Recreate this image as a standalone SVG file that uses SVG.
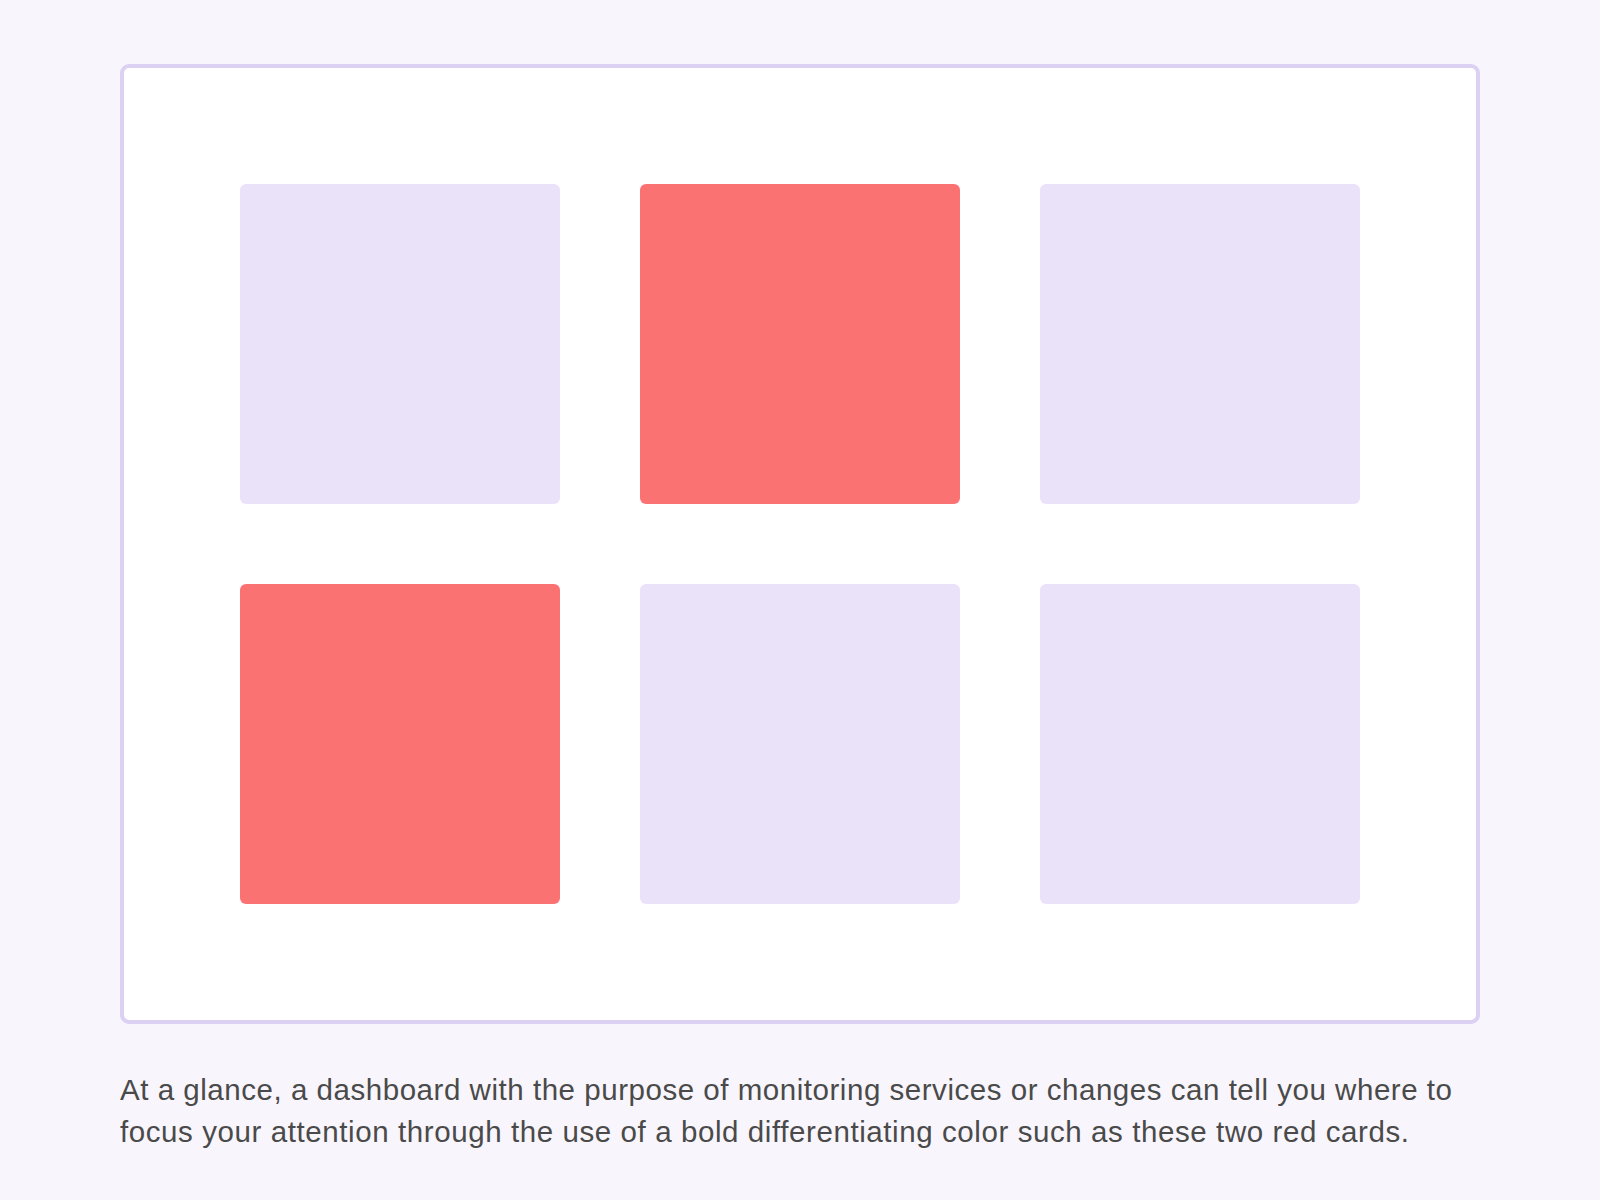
<svg xmlns="http://www.w3.org/2000/svg" width="1600" height="1200" viewBox="0 0 1600 1200">
<style>
.card{fill:#E9E2F9}
.alert{fill:#FA7272}
.cap{font-family:"Liberation Sans",Arial,sans-serif;font-size:29.5px;fill:#4A4A4A}
</style>
<rect x="0" y="0" width="1600" height="1200" fill="#F8F6FC"/>
<g id="frame"><rect x="122" y="66" width="1356" height="956" rx="7" fill="#FFFFFF" stroke="#DCD1F2" stroke-width="4"/></g>
<g id="card1"><rect class="card" x="240" y="184" width="320" height="320" rx="6"/></g>
<g id="card2"><rect class="alert" x="640" y="184" width="320" height="320" rx="6"/></g>
<g id="card3"><rect class="card" x="1040" y="184" width="320" height="320" rx="6"/></g>
<g id="card4"><rect class="alert" x="240" y="584" width="320" height="320" rx="6"/></g>
<g id="card5"><rect class="card" x="640" y="584" width="320" height="320" rx="6"/></g>
<g id="card6"><rect class="card" x="1040" y="584" width="320" height="320" rx="6"/></g>
<g id="connectors"></g>
<g id="caption">
<text class="cap" x="120" y="1100" textLength="1332" lengthAdjust="spacing">At a glance, a dashboard with the purpose of monitoring services or changes can tell you where to</text>
<text class="cap" x="120" y="1142" textLength="1289" lengthAdjust="spacing">focus your attention through the use of a bold differentiating color such as these two red cards.</text>
</g>
</svg>
